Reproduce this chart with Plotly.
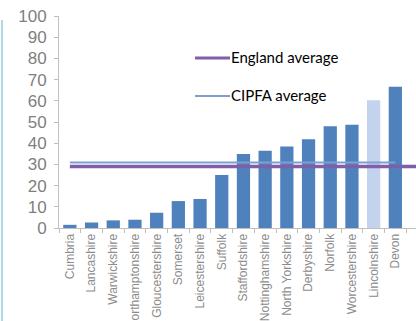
import plotly.graph_objects as go

categories = ["Cumbria", "Lancashire", "Warwickshire", "Northamptonshire",
              "Gloucestershire", "Somerset", "Leicestershire", "Suffolk",
              "Staffordshire", "Nottinghamshire", "North Yorkshire", "Derbyshire",
              "Norfolk", "Worcestershire", "Lincolnshire", "Devon"]
values = [1.5, 2.6, 3.6, 3.9, 7.2, 12.7, 13.7, 25.0, 34.9, 36.4, 38.4, 41.9,
          48.0, 48.7, 60.3, 66.6]
highlight = "Lincolnshire"
england_avg = 29.0
cipfa_avg = 30.9
y_ticks = [0, 10, 20, 30, 40, 50, 60, 70, 80, 90, 100]

W, H = 416, 321
L, R, T, B = 59, 0, 16, 93
pw, ph = W - L - R, H - T - B
cat_px = 21.7

def px_x(p):
    return (p - L) / pw

def px_y(p):
    return (H - B - p) / ph

idx = list(range(len(categories)))
bar_colors = ["#c3d3ee" if c == highlight else "#4f81bd" for c in categories]

fig = go.Figure()
fig.add_trace(go.Bar(x=idx, y=values, width=0.61, marker=dict(color=bar_colors, line=dict(width=0)),
                     showlegend=False, hoverinfo="skip"))
fig.add_trace(go.Scatter(x=[0, len(categories)], y=[england_avg, england_avg], mode="lines",
                         line=dict(color="#7f5fa8", width=3.3), showlegend=False))
fig.add_trace(go.Scatter(x=[0, len(categories) - 1], y=[cipfa_avg, cipfa_avg], mode="lines",
                         line=dict(color="#7f9fcf", width=2), showlegend=False))

xmax = -0.5 + pw / cat_px

# legend drawn as shapes + text
legend_items = [("England average", "#7f5fa8", 3, 58), ("CIPFA average", "#7f9fcf", 2, 96)]
shapes = []
annotations = []
for name, col, w, py in legend_items:
    shapes.append(dict(type="line", xref="paper", yref="paper", x0=px_x(195), x1=px_x(230),
                       y0=px_y(py), y1=px_y(py), line=dict(color=col, width=w)))
    annotations.append(dict(text=name, xref="paper", yref="paper", x=px_x(229), y=px_y(py - 1),
                            xanchor="left", yanchor="middle", showarrow=False,
                            font=dict(family="Lato", size=15, color="#000000")))
# left frame line
shapes.append(dict(type="line", xref="paper", yref="paper", x0=px_x(2), x1=px_x(2),
                   y0=px_y(20), y1=px_y(330), line=dict(color="#92cddc", width=1.5)))

fig.update_layout(
    width=W, height=H, margin=dict(l=L, r=R, t=T, b=B, autoexpand=False),
    paper_bgcolor="white", plot_bgcolor="white",
    bargap=0.39, shapes=shapes, annotations=annotations,
    xaxis=dict(range=[-0.5, xmax], tickmode="array", tickvals=idx, ticktext=categories,
               tickangle=-90, ticks="", showgrid=False, zeroline=False, automargin=False,
               showline=True, linecolor="#bfbfbf", linewidth=1,
               tickfont=dict(family="Liberation Sans", size=12, color="#8c8c8c"),
               minor=dict(tickmode="array", tickvals=[i - 0.5 for i in range(len(categories) + 1)],
                          ticks="outside", ticklen=4, tickcolor="#bfbfbf", showgrid=False)),
    yaxis=dict(range=[0, 100], tickmode="array", tickvals=y_ticks, ticks="outside", ticklen=4,
               tickcolor="#bfbfbf", showgrid=False, zeroline=False, showline=True, automargin=False,
               linecolor="#bfbfbf", linewidth=1, ticklabelstandoff=4,
               tickfont=dict(family="Liberation Sans", size=17, color="#7f7f7f")),
)

fig.write_html("out.html", config={"displayModeBar": False, "staticPlot": True},
               post_script="document.body.style.margin='0';document.body.style.overflow='hidden';")
